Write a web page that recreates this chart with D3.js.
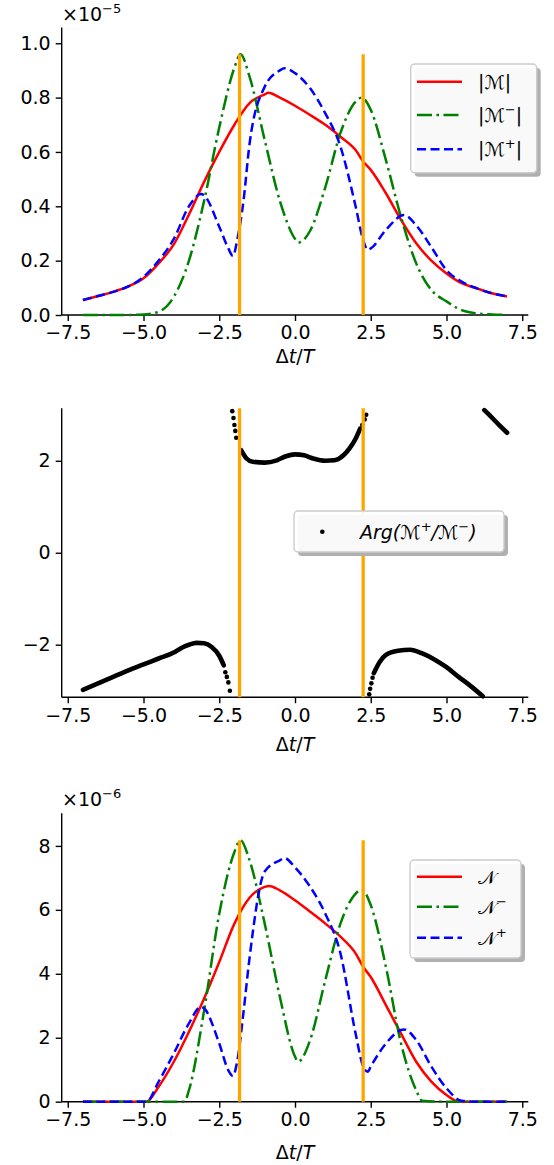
<!DOCTYPE html>
<html><head><meta charset="utf-8">
<script src="https://cdn.jsdelivr.net/npm/d3@7"></script>
<style>body{margin:0;background:#fff}svg{display:block}text{font-family:"DejaVu Sans",sans-serif}</style>
</head><body>
<script>
// ---------- data ----------
const xTicks = [-7.5, -5, -2.5, 0, 2.5, 5, 7.5];
const vlinesX = [-1.83, 2.25];

// top panel (x1e-5)
const tTop = [-7,-6.5,-6,-5.5,-5,-4.5,-4,-3.5,-3,-2.5,-2,-1.5,-1,-0.88,-0.5,0,0.5,1,1.5,2,2.25,2.5,3,3.5,4,4.5,5,5.5,6,6.5,7];
const magM  = [0.055,0.07,0.085,0.105,0.135,0.19,0.26,0.37,0.49,0.60,0.70,0.78,0.812,0.818,0.80,0.77,0.736,0.70,0.656,0.607,0.565,0.534,0.448,0.35,0.264,0.20,0.153,0.117,0.098,0.08,0.068];
const tMinus = [-7,-6,-5.5,-5,-4.5,-4,-3.5,-3,-2.5,-2,-1.8,-1.5,-1,-0.5,0,0.1,0.5,1,1.5,2,2.2,2.5,3,3.5,4,4.5,5,5.5,6,6.5,7];
const magMminus = [0,0,0,0.002,0.012,0.067,0.2,0.42,0.69,0.91,0.96,0.877,0.644,0.42,0.28,0.266,0.31,0.47,0.67,0.785,0.80,0.755,0.57,0.36,0.19,0.092,0.05,0.018,0.006,0.002,0];
const tPlus = [-7,-6.5,-6,-5.5,-5,-4.5,-4,-3.5,-3.1,-3,-2.5,-2.2,-2.05,-1.9,-1.7,-1.5,-1,-0.5,-0.35,0,0.5,1,1.5,2,2.25,2.4,2.5,3,3.6,4,4.5,5,5.5,6,6.5,7];
const magMplus = [0.055,0.07,0.085,0.105,0.14,0.20,0.28,0.40,0.445,0.44,0.325,0.245,0.217,0.28,0.42,0.63,0.84,0.90,0.908,0.89,0.834,0.742,0.62,0.40,0.276,0.24,0.245,0.313,0.368,0.33,0.25,0.165,0.123,0.098,0.08,0.068];

// middle panel: phase Arg(M+/M-)
const argSeg1T = [-7,-6.5,-6,-5.5,-5,-4.5,-4,-3.75,-3.5,-3.25,-3,-2.75,-2.5,-2.35];
const argSeg1P = [-2.98,-2.84,-2.70,-2.56,-2.43,-2.30,-2.17,-2.07,-2.00,-1.96,-1.97,-2.05,-2.24,-2.45];
const argSeg2T = [-1.78,-1.6,-1.4,-1.0,-0.6,-0.3,0,0.3,0.6,1.0,1.3,1.6,1.8,2.0,2.15];
const argSeg2P = [2.23,2.05,1.98,1.96,2.01,2.10,2.14,2.12,2.05,2.00,2.01,2.12,2.27,2.48,2.70];
const argSeg3T = [2.6,2.8,3.0,3.4,3.8,4.2,4.6,5.0,5.4,5.8,6.2];
const argSeg3P = [-2.62,-2.37,-2.22,-2.13,-2.11,-2.19,-2.32,-2.49,-2.70,-2.90,-3.12];
const argSeg4T = [6.25,6.5,6.75,7.0];
const argSeg4P = [3.10,2.94,2.77,2.61];
const argDotsT = [-2.3,-2.25,-2.2,-2.15,-2.07,-2.03,-2.0,-1.97,-1.94,2.22,2.3,2.35,2.45,2.48,2.52,2.56];
const argDotsP = [-2.6,-2.7,-2.82,-3.0,3.08,2.93,2.78,2.65,2.5,2.78,2.9,3.0,-3.08,-2.96,-2.84,-2.72];

// bottom panel (x1e-6)
const tN = [-7,-6,-5.5,-5,-4.9,-4.5,-4,-3.5,-3,-2.5,-2,-1.5,-1,-0.85,-0.5,0,0.5,1,1.5,2,2.25,2.5,3,3.5,4,4.5,5,5.3,5.5,6,7];
const valN = [0,0,0,0,0,0.47,1.25,2.19,3.23,4.37,5.57,6.38,6.72,6.75,6.61,6.3,5.94,5.57,5.16,4.64,4.22,3.9,3.02,2.13,1.25,0.63,0.21,0.03,0,0,0];
const tNminus = [-7,-5,-3.65,-3.5,-3,-2.5,-2,-1.8,-1.5,-1,-0.5,0,0.1,0.5,1,1.5,2,2.2,2.5,3,3.5,4,4.2,5,7];
const valNminus = [0,0,0,0.36,2.85,5.88,7.81,8.18,7.55,5.57,3.28,1.41,1.25,1.93,3.8,5.57,6.51,6.64,6.15,4.22,1.82,0.36,0.03,0,0];
const tNplus = [-7,-5,-4.9,-4.5,-4,-3.5,-3.1,-3,-2.5,-2.2,-2.05,-1.9,-1.7,-1.5,-1,-0.5,-0.35,0,0.5,1,1.5,2,2.25,2.4,2.5,3,3.6,4,4.5,5,5.5,6,7];
const valNplus = [0,0,0,0.63,1.51,2.45,2.97,2.92,1.82,0.98,0.8,1.3,2.8,4.5,7.2,7.55,7.62,7.33,6.72,5.88,4.64,2.13,1.1,0.94,1.1,1.82,2.26,1.93,1.1,0.42,0.03,0,0];

const topYTicks = [0,0.2,0.4,0.6,0.8,1.0];
const midYTicks = [-2,0,2];
const botYTicks = [0,2,4,6,8];

// ---------- drawing ----------
const W=554,H=1165, FS=19, SFS=13, SUP=8;
const svg = d3.select("body").append("svg").attr("width",W).attr("height",H);
const x = d3.scaleLinear().domain([-7.7,7.7]).range([61.7,528.3]);
const minus = s => s.replace("-", "\u2212");
const RED="#ff0000", GREEN="#008000", BLUE="#0000ff", ORANGE="#ffa500";
const LW=2.5;

function axes(y, yTicks, yFmt, baseY){
  const gx = svg.append("g").attr("transform",`translate(0,${baseY})`)
    .call(d3.axisBottom(x).tickValues(xTicks).tickSize(6).tickPadding(5).tickFormat(d=>minus(d3.format(".1f")(d))));
  const gy = svg.append("g").attr("transform",`translate(${x.range()[0]},0)`)
    .call(d3.axisLeft(y).tickValues(yTicks).tickSize(6).tickPadding(5).tickFormat(d=>minus(yFmt(d))));
  [gx,gy].forEach(g=>{
    g.selectAll(".tick line").attr("stroke","#000").attr("stroke-width",1.4);
    g.selectAll(".tick text").attr("font-size",FS).attr("fill","#000").attr("font-family","DejaVu Sans");
    g.select(".domain").remove();
  });
  svg.append("line").attr("x1",x.range()[0]).attr("x2",x.range()[1]).attr("y1",baseY).attr("y2",baseY).attr("stroke","#000").attr("stroke-width",1.4);
  svg.append("line").attr("x1",x.range()[0]).attr("x2",x.range()[0]).attr("y1",y.range()[0]).attr("y2",y.range()[1]).attr("stroke","#000").attr("stroke-width",1.4);
}
function curve(y, ts, vs, color, dash){
  const line = d3.line().x((d,i)=>x(ts[i])).y(d=>y(d)).curve(d3.curveMonotoneX);
  svg.append("path").attr("d", line(vs)).attr("fill","none").attr("stroke",color)
    .attr("stroke-width",LW).attr("stroke-dasharray",dash||null);
}
function vlines(y, top){
  vlinesX.forEach(v=>svg.append("line").attr("x1",x(v)).attr("x2",x(v))
    .attr("y1",y.range()[0]).attr("y2",y(top))
    .attr("stroke",ORANGE).attr("stroke-width",3.3));
}
function xlabel(yb){
  const t = svg.append("text").attr("x",x(0)).attr("y",yb).attr("text-anchor","middle").attr("font-size",FS);
  t.append("tspan").text("\u0394");
  t.append("tspan").attr("font-style","italic").text("t");
  t.append("tspan").text("/");
  t.append("tspan").attr("font-style","italic").text("T");
}
function offsetText(yb, exp){
  const t = svg.append("text").attr("x",62).attr("y",yb).attr("font-size",FS);
  t.append("tspan").text("\u00d710");
  t.append("tspan").attr("dy",-SUP).attr("font-size",SFS).text("\u2212"+exp);
}
function legendBox(x0,y0,w,h){
  svg.append("rect").attr("x",x0+4).attr("y",y0+4).attr("width",w).attr("height",h).attr("rx",4).attr("fill","#b0b0b0");
  svg.append("rect").attr("x",x0).attr("y",y0).attr("width",w).attr("height",h).attr("rx",4)
    .attr("fill","#fff").attr("fill-opacity",0.92).attr("stroke","#cccccc").attr("stroke-width",1.4);
}
function legendEntry(yy, color, dash, parts){
  svg.append("line").attr("x1",417).attr("x2",462).attr("y1",yy).attr("y2",yy).attr("stroke",color).attr("stroke-width",LW).attr("stroke-dasharray",dash||null);
  const t = svg.append("text").attr("x",478).attr("y",yy+7).attr("font-size",FS);
  parts.forEach(p=>{
    const s=t.append("tspan").text(p.s);
    if(p.sup){ s.attr("dy",-SUP).attr("font-size",SFS); }
    if(p.down){ s.attr("dy",SUP); }
  });
}
const DASH="9,4.5", DASHDOT="15,4.5,2.5,4.5";

// ---- top panel ----
const y1 = d3.scaleLinear().domain([0,1.058]).range([315,27.5]);
axes(y1, topYTicks, d3.format(".1f"), 315);
curve(y1, tTop, magM, RED);
curve(y1, tMinus, magMminus, GREEN, DASHDOT);
curve(y1, tPlus, magMplus, BLUE, DASH);
vlines(y1, 0.96);
xlabel(363);
offsetText(21, "5");
legendBox(410.7,64,126,108.7);
const M="\u2133";
legendEntry(81.7, RED, null, [{s:"|"+M+"|"}]);
legendEntry(115, GREEN, DASHDOT, [{s:"|"+M},{s:"\u2212",sup:1},{s:"|",down:1}]);
legendEntry(149.3, BLUE, DASH, [{s:"|"+M},{s:"+",sup:1},{s:"|",down:1}]);

// ---- middle panel ----
const y2 = d3.scaleLinear().domain([-Math.PI,Math.PI]).range([697.2,408.3]);
axes(y2, midYTicks, d3.format("d"), 697.2);
[[argSeg1T,argSeg1P],[argSeg2T,argSeg2P],[argSeg3T,argSeg3P],[argSeg4T,argSeg4P]].forEach(([ts,ps])=>{
  const line = d3.line().x((d,i)=>x(ts[i])).y(d=>y2(d)).curve(d3.curveMonotoneX);
  svg.append("path").attr("d",line(ps)).attr("fill","none").attr("stroke","#000").attr("stroke-width",4.6).attr("stroke-linecap","round");
});
svg.append("g").selectAll("circle").data(argDotsP).join("circle")
  .attr("cx",(d,i)=>x(argDotsT[i])).attr("cy",d=>y2(d)).attr("r",2.3).attr("fill","#000");
vlines(y2, Math.PI);
xlabel(751);
legendBox(294,511,210,41);
svg.append("circle").attr("cx",322.3).attr("cy",531.7).attr("r",2.3).attr("fill","#000");
{
  const t = svg.append("text").attr("x",360).attr("y",538.5).attr("font-size",FS);
  t.append("tspan").attr("font-style","italic").text("Arg(");
  t.append("tspan").text(M);
  t.append("tspan").attr("dy",-SUP).attr("font-size",SFS).text("+");
  t.append("tspan").attr("dy",SUP).attr("font-style","italic").text("/");
  t.append("tspan").text(M);
  t.append("tspan").attr("dy",-SUP).attr("font-size",SFS).text("\u2212");
  t.append("tspan").attr("dy",SUP).attr("font-style","italic").text(")");
}

// ---- bottom panel ----
const y3 = d3.scaleLinear().domain([0,9.02]).range([1101.7,813.3]);
axes(y3, botYTicks, d3.format("d"), 1101.7);
curve(y3, tN, valN, RED);
curve(y3, tNminus, valNminus, GREEN, DASHDOT);
curve(y3, tNplus, valNplus, BLUE, DASH);
vlines(y3, 8.18);
xlabel(1159);
offsetText(806, "6");
legendBox(410,860,111,98);
const N="\ud835\udca9";
legendEntry(876.7, RED, null, [{s:N}]);
legendEntry(906.7, GREEN, DASHDOT, [{s:N},{s:"\u2212",sup:1}]);
legendEntry(937.7, BLUE, DASH, [{s:N},{s:"+",sup:1}]);
</script>
</body></html>
